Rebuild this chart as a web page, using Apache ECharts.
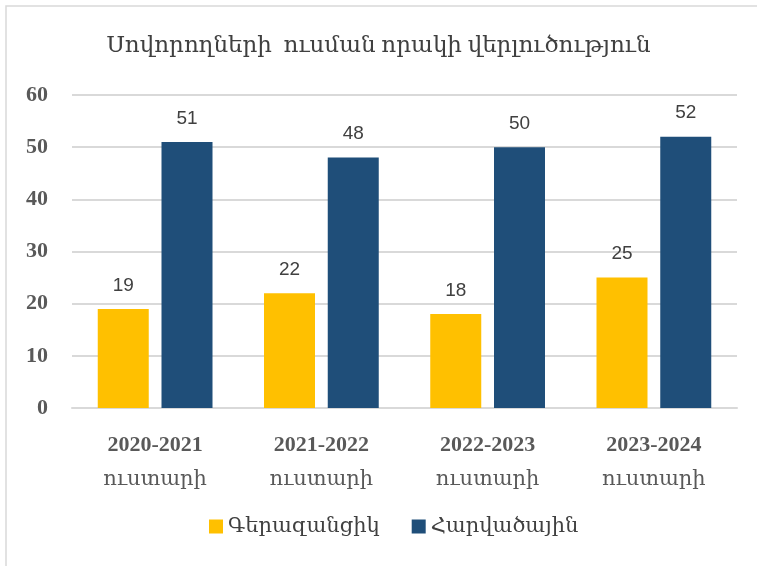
<!DOCTYPE html>
<html>
<head>
<meta charset="utf-8">
<script src="https://cdn.jsdelivr.net/npm/echarts@6/dist/echarts.min.js"></script>
<style>
html, body { margin: 0; padding: 0; background: #fff; }
#chart { width: 757px; height: 566px; }
</style>
</head>
<body>
<div id="chart"></div>
<script>
const titleText = 'Սովորողների  ուսման որակի վերլուծություն';
const categories = ['2020-2021\nուստարի', '2021-2022\nուստարի', '2022-2023\nուստարի', '2023-2024\nուստարի'];
const seriesNames = ['Գերազանցիկ', 'Հարվածային'];
const excellent = [19, 22, 18, 25];
const good = [51, 48, 50, 52];

const serif = "'Liberation Serif', 'DejaVu Serif', serif";
const sans = "'Liberation Sans', 'DejaVu Sans', sans-serif";

const myChart = echarts.init(document.getElementById('chart'));

const labelStyle = {
    show: true,
    position: 'top',
    distance: 14,
    color: '#404040',
    fontSize: 19,
    fontFamily: sans,
};

const option = {
    backgroundColor: '#fff',
    graphic: [
        {
            type: 'rect',
            shape: { x: 6, y: 6, width: 800, height: 600 },
            style: { fill: 'none', stroke: '#d9d9d9', lineWidth: 1.5 },
            silent: true,
        },
    ],
    title: {
        text: titleText,
        left: 'center',
        top: 29,
        textStyle: {
            fontFamily: serif,
            fontSize: 23,
            fontWeight: 'normal',
            color: '#404040',
        },
    },
    legend: {
        bottom: 24,
        left: 204,
        itemWidth: 14,
        itemHeight: 14,
        itemGap: 32,
        icon: 'rect',
        textStyle: {
            fontFamily: serif,
            fontSize: 21,
            color: '#404040',
        },
        data: seriesNames,
    },
    grid: {
        left: 72,
        right: 20,
        top: 95,
        bottom: 158,
    },
    xAxis: {
        type: 'category',
        data: categories,
        axisTick: { show: false },
        axisLine: { lineStyle: { color: '#d9d9d9', width: 2 } },
        axisLabel: {
            margin: 20,
            color: '#595959',
            formatter: function (value) {
                const parts = value.split('\n');
                return '{y|' + parts[0] + '}\n{w|' + parts[1] + '}';
            },
            rich: {
                y: {
                    fontFamily: serif,
                    fontSize: 22,
                    fontWeight: 'bold',
                    color: '#595959',
                    lineHeight: 34,
                },
                w: {
                    fontFamily: serif,
                    fontSize: 21,
                    color: '#595959',
                    lineHeight: 34,
                },
            },
        },
    },
    yAxis: {
        type: 'value',
        min: 0,
        max: 60,
        interval: 10,
        axisLine: { show: false },
        axisTick: { show: false },
        splitLine: { lineStyle: { color: '#d9d9d9', width: 2 } },
        axisLabel: {
            margin: 24,
            fontFamily: serif,
            fontSize: 22,
            fontWeight: 'bold',
            color: '#595959',
        },
    },
    series: [
        {
            name: seriesNames[0],
            type: 'bar',
            data: excellent,
            barWidth: 51,
            barGap: '25%',
            itemStyle: { color: '#FFC000' },
            label: labelStyle,
        },
        {
            name: seriesNames[1],
            type: 'bar',
            data: good,
            barWidth: 51,
            itemStyle: { color: '#1F4E79' },
            label: labelStyle,
        },
    ],
};

myChart.setOption(option);
</script>
</body>
</html>
